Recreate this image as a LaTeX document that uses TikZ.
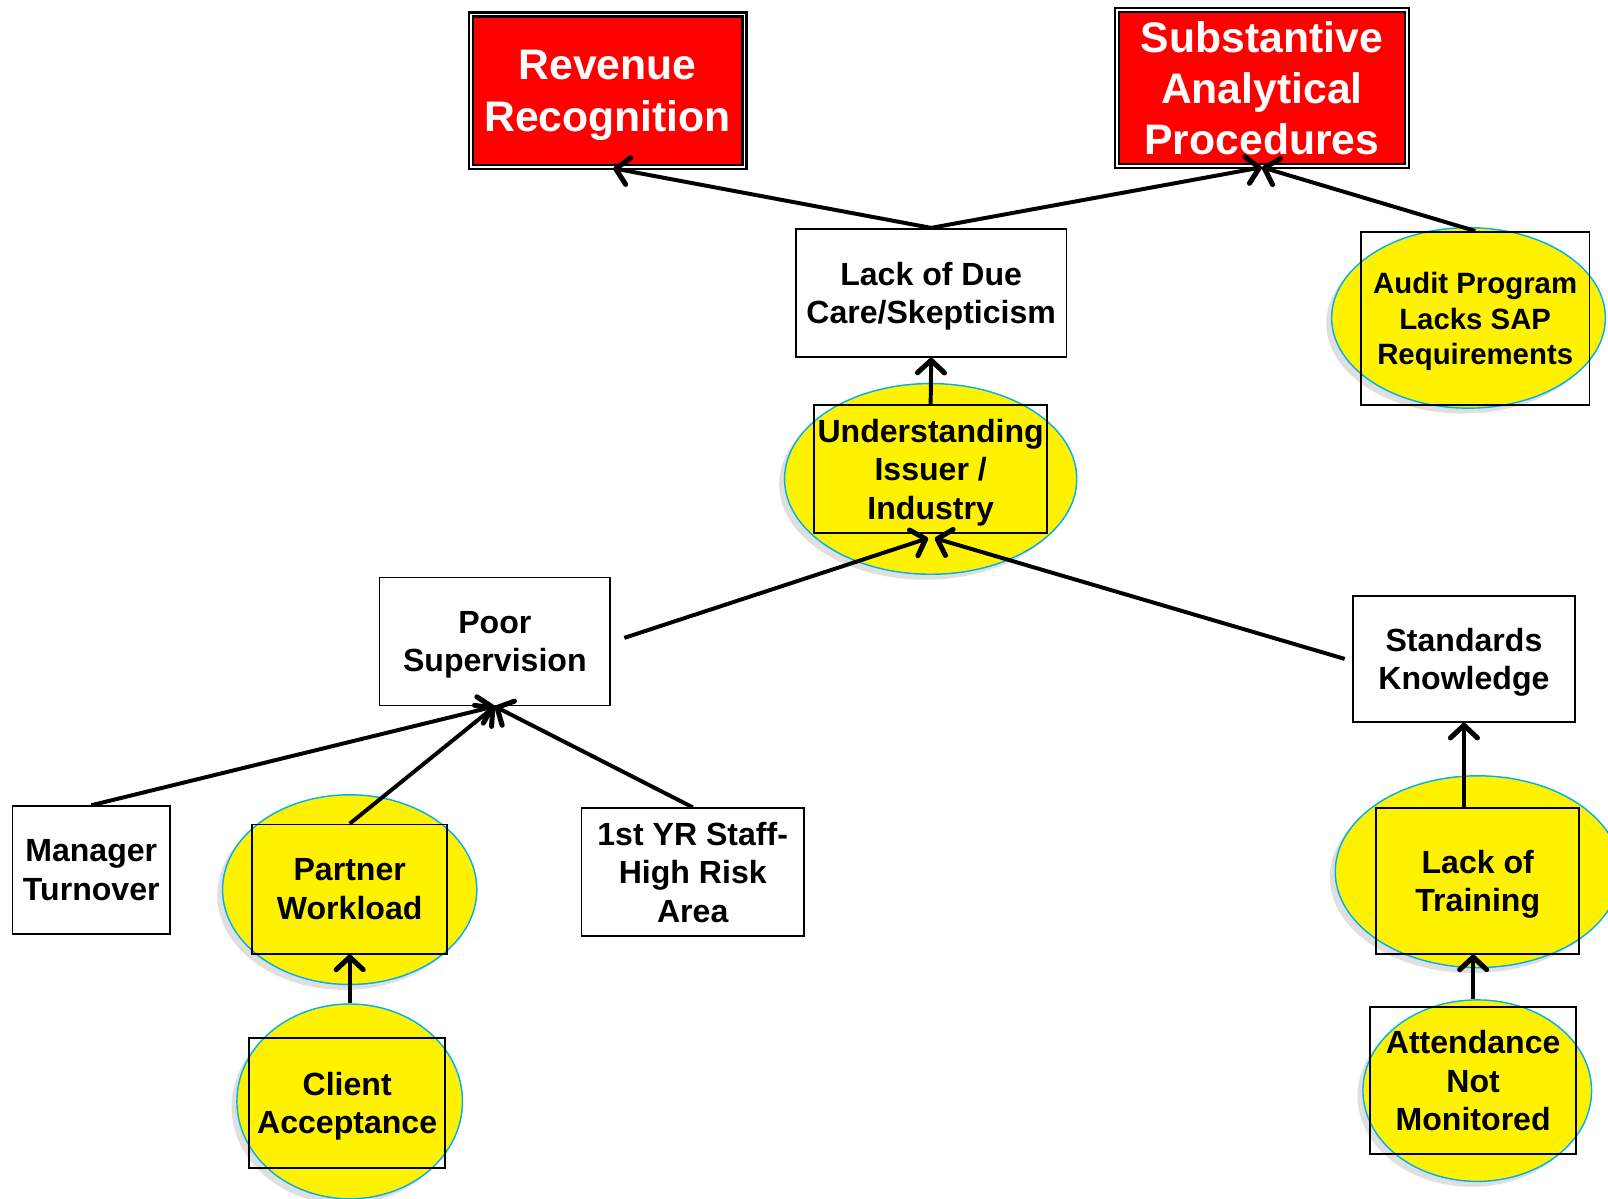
\documentclass[tikz,border=0pt]{standalone}
\usepackage{fontspec}
\setmainfont{Liberation Sans}
\usepackage{tikz}
\usetikzlibrary{arrows.meta}
\usetikzlibrary{shapes,shadows}
\usetikzlibrary{calc}
\definecolor{rim}{RGB}{0,176,240}
\tikzstyle{cause}=[draw,line width=0.9pt,inner sep=0pt,align=center,text depth=0pt,font=\bfseries\fontsize{17.8}{21.3}\selectfont]
\tikzstyle{issue}=[cause,fill=red,text=white,line width=1.3pt,double=white,double distance=0.9pt,font=\bfseries\fontsize{23.7}{28.4}\selectfont]
\tikzstyle{blob}=[ellipse,draw=rim,fill=yellow,line width=0.8pt,inner sep=0pt,drop shadow={shadow xshift=-3pt,shadow yshift=-3pt,opacity=0.25}]
\tikzstyle{link}=[line width=2.2pt,-{Straight Barb[round,length=7pt,width=15pt,line width=2.8pt]}]

\begin{document}
\begin{tikzpicture}[x=0.02cm,y=-0.02cm]
\useasboundingbox (0,0) rectangle (1568,1169);
% yellow ellipses, drawn first so the boxes sit on them
\node [blob,minimum width=5.34cm,minimum height=3.52cm] (aude) at (1432,310) {};
\node [blob,minimum width=5.7cm,minimum height=3.72cm] (unde) at (907.5,467) {};
\node [blob,minimum width=4.96cm,minimum height=3.7cm] (pwe) at (341,867.5) {};
\node [blob,minimum width=4.4cm,minimum height=3.8cm] (cae) at (341,1074) {};
\node [blob,minimum width=5.56cm,minimum height=3.74cm] (tre) at (1441,850) {};
\node [blob,minimum width=4.46cm,minimum height=3.54cm] (atte) at (1440.5,1063.5) {};

% top issues
\node [issue,minimum width=5.34cm,minimum height=2.98cm] (rev) at (592.5,88.5) {Revenue\\Recognition};
\node [issue,minimum width=5.66cm,minimum height=3.04cm] (sap) at (1230.5,86) {Substantive\\Analytical\\Procedures};

% causes
\node [cause,minimum width=5.28cm,minimum height=2.5cm] (due) at (908,285.5) {Lack of Due\\Care/Skepticism};
\node [cause,minimum width=4.46cm,minimum height=3.38cm,font=\bfseries\fontsize{16.3}{19.6}\selectfont] (aud) at (1438.5,310.5) {Audit Program\\Lacks SAP\\Requirements};
\node [cause,minimum width=4.54cm,minimum height=2.5cm] (und) at (907.5,457.5) {Understanding\\Issuer /\\Industry};
\node [cause,minimum width=4.5cm,minimum height=2.5cm] (sup) at (482.5,625.5) {Poor\\Supervision};
\node [cause,minimum width=4.34cm,minimum height=2.46cm] (std) at (1427.5,642.5) {Standards\\Knowledge};
\node [cause,minimum width=3.08cm,minimum height=2.5cm] (mgr) at (89,848.5) {Manager\\Turnover};
\node [cause,minimum width=3.8cm,minimum height=2.52cm] (pw) at (341,867) {Partner\\Workload};
\node [cause,minimum width=4.34cm,minimum height=2.5cm] (yr) at (675.5,850.5) {1st YR Staff-\\High Risk\\Area};
\node [cause,minimum width=3.82cm,minimum height=2.54cm] (ca) at (338.5,1075.5) {Client\\Acceptance};
\node [cause,minimum width=3.96cm,minimum height=2.84cm] (tr) at (1441,859) {Lack of\\Training};
\node [cause,minimum width=4.02cm,minimum height=2.86cm] (att) at (1436.5,1053.5) {Attendance\\Not\\Monitored};

% arrows
\draw [link] (due.north) -- ([xshift=0.11cm]rev.south);
\draw [link] (due.north) -- (sap.south);
\draw [link] (aud.north) -- (sap.south);
\draw [link] (und.north) -- (due.south);
\draw [link] ([xshift=0.26cm,yshift=0.07cm]sup.east) -- ([xshift=-0.05cm,yshift=-0.08cm]und.south);
\draw [link] ([xshift=-0.14cm]std.west) -- ([xshift=0.08cm,yshift=-0.08cm]und.south);
\draw [link] (mgr.north) -- (sup.south);
\draw [link] (pw.north) -- (sup.south);
\draw [link] (yr.north) -- (sup.south);
\draw [link] (cae.north) -- (pw.south);
\draw [link] (tr.north -| std.south) -- (std.south);
\draw [link] (atte.north -| att.north) -- (att.north |- tr.south);
\end{tikzpicture}
\end{document}
